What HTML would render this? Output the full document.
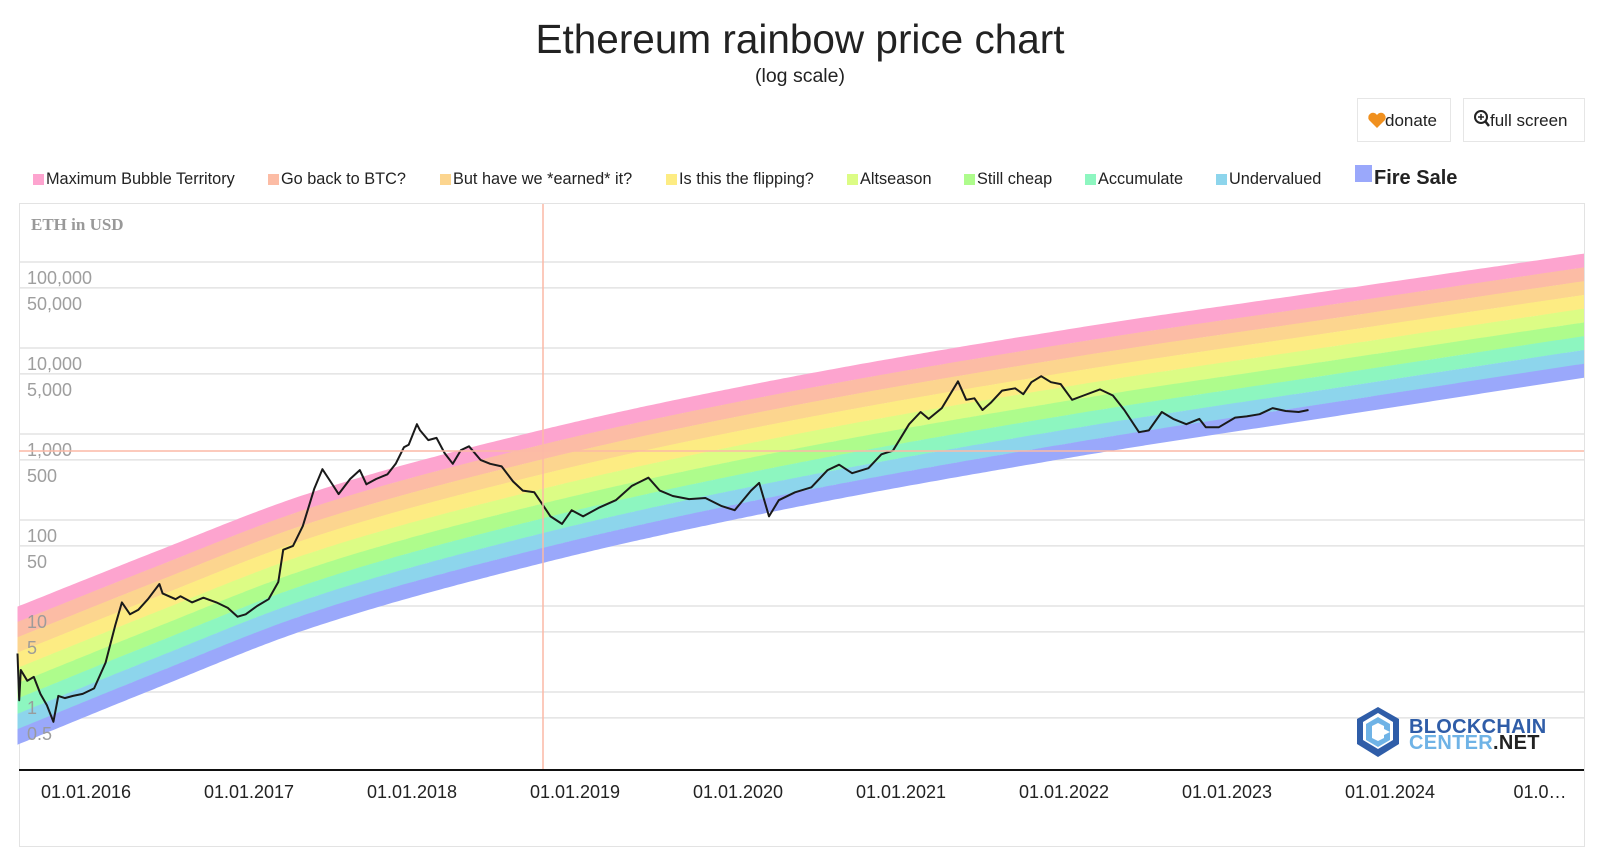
<!DOCTYPE html>
<html><head><meta charset="utf-8"><style>
body{margin:0;background:#fff;font-family:"Liberation Sans",sans-serif;overflow:hidden}
svg{display:block}
</style></head><body>
<svg width="1600" height="847" viewBox="0 0 1600 847" xmlns="http://www.w3.org/2000/svg">
<text x="800" y="53" text-anchor="middle" font-size="40.5" fill="#222" font-family="Liberation Sans, sans-serif">Ethereum rainbow price chart</text>
<text x="800" y="82" text-anchor="middle" font-size="19.5" fill="#222" font-family="Liberation Sans, sans-serif">(log scale)</text>
<g>
<rect x="1357.5" y="98.5" width="93" height="43" fill="#fff" stroke="#e6e6e6"/>
<path d="M1377 128 l-8 -8 a4.3 4.3 0 0 1 8 -5 a4.3 4.3 0 0 1 8 5 z" fill="#f0901e"/>
<text x="1385" y="126" font-size="17" fill="#222">donate</text>
</g>
<g>
<rect x="1463.5" y="98.5" width="121" height="43" fill="#fff" stroke="#e6e6e6"/>
<circle cx="1481" cy="117" r="6" fill="none" stroke="#222" stroke-width="2"/>
<line x1="1485" y1="121" x2="1489" y2="126" stroke="#222" stroke-width="2.5"/>
<path d="M1478 117h6M1481 114v6" stroke="#222" stroke-width="1.5"/>
<text x="1490" y="126" font-size="17" fill="#222">full screen</text>
</g>
<g id="legend"></g>
<rect x="19.5" y="203.5" width="1565" height="643" fill="none" stroke="#e3e3e3"/>
<text x="31" y="230" font-size="17" font-weight="bold" fill="#999" font-family="Liberation Serif, serif">ETH in USD</text>
<g id="grid"></g>
<g id="bands"></g>
<path id="price" fill="none" stroke="#1a1a1a" stroke-width="2" stroke-linejoin="round"/>
<g id="ylabels"></g>
<line x1="19" y1="451" x2="1584" y2="451" stroke="#fbb9a6" stroke-width="1.5"/>
<line x1="543" y1="204" x2="543" y2="770" stroke="#fbb9a6" stroke-width="1.5"/>
<line x1="19" y1="770" x2="1584" y2="770" stroke="#111" stroke-width="2"/>
<g id="xlabels"></g>
<g>
<path d="M1378 707 l21 12 v25 l-21 13 l-21 -13 v-25 z" fill="#2f5da8"/>
<path d="M1378 713 l15 9 v18 l-15 9 l-15 -9 v-18 z" fill="#fff"/>
<path d="M1366 724 l12 -7 l12 7 v8 l-6 -3 v-3 l-6 -3 l-6 3 v12 l6 3 l6 -3 v-3 l6 -3 v8 l-12 7 l-12 -7 z" fill="#6fb3e6"/>
<text x="1409" y="733" font-size="20" font-weight="bold" fill="#2f5da8" letter-spacing="0.3">BLOCKCHAIN</text>
<text x="1409" y="749" font-size="20" font-weight="bold" fill="#6fb3e6" letter-spacing="0.3">CENTER<tspan fill="#222">.NET</tspan></text>
</g>
</svg>
<script>
// ---- data ----
const bandNames = ["Maximum Bubble Territory","Go back to BTC?","But have we *earned* it?","Is this the flipping?","Altseason","Still cheap","Accumulate","Undervalued","Fire Sale"];
const bandColors = ["#fda4cf","#fcbca5","#fcd58f","#fdec83","#dcfc85","#aefc8c","#8df6c0","#8dd5ec","#9aa8fb"];
const bandTopYears = [2015.55,2016.41,2017.35,2018.80,2020.26,2022.10,2023.61,2024.98,2025.2];
const bandTopLog = [0.97,1.62,2.30,3.05,3.64,4.24,4.66,5.04,5.1];
const bandWidthStart = 0.178, bandWidthEnd = 0.160;
const yTicks = [100000,50000,10000,5000,1000,500,100,50,10,5,1,0.5];
const yTickLabels = ["100,000","50,000","10,000","5,000","1,000","500","100","50","10","5","1","0.5"];
const xTickYears = [2016,2017,2018,2019,2020,2021,2022,2023,2024,2025];
const xTickLabels = ["01.01.2016","01.01.2017","01.01.2018","01.01.2019","01.01.2020","01.01.2021","01.01.2022","01.01.2023","01.01.2024","01.0…"];
const priceYears = [2015.58,2015.59,2015.60,2015.64,2015.68,2015.72,2015.76,2015.80,2015.83,2015.87,2015.92,2015.98,2016.05,2016.12,2016.18,2016.22,2016.27,2016.32,2016.38,2016.45,2016.47,2016.55,2016.58,2016.65,2016.72,2016.80,2016.87,2016.93,2016.98,2017.05,2017.12,2017.18,2017.21,2017.27,2017.33,2017.40,2017.45,2017.50,2017.55,2017.62,2017.68,2017.72,2017.78,2017.85,2017.90,2017.95,2017.98,2018.03,2018.05,2018.10,2018.15,2018.20,2018.25,2018.30,2018.35,2018.42,2018.48,2018.55,2018.62,2018.68,2018.75,2018.85,2018.92,2018.98,2019.05,2019.15,2019.25,2019.35,2019.45,2019.52,2019.60,2019.70,2019.80,2019.90,2019.98,2020.08,2020.13,2020.19,2020.25,2020.35,2020.45,2020.55,2020.62,2020.70,2020.80,2020.88,2020.95,2021.05,2021.12,2021.17,2021.25,2021.35,2021.40,2021.45,2021.50,2021.55,2021.62,2021.70,2021.75,2021.80,2021.86,2021.92,2021.98,2022.05,2022.12,2022.22,2022.30,2022.37,2022.46,2022.52,2022.60,2022.67,2022.75,2022.83,2022.87,2022.95,2023.05,2023.12,2023.20,2023.28,2023.36,2023.44,2023.50];
const priceValues = [2.8,0.8,1.8,1.35,1.5,0.95,0.7,0.45,0.9,0.85,0.9,0.95,1.1,2.2,6,11,8,9,12,18,14,12,13,11,12.5,11,9.5,7.5,8,10,12,19,45,50,85,230,390,280,200,300,380,260,300,340,450,700,750,1300,1100,850,900,600,450,650,720,500,450,420,280,220,210,110,90,130,110,140,170,250,310,220,190,175,180,145,130,220,270,110,170,210,240,380,440,350,400,580,640,1300,1800,1500,2000,4100,2500,2600,1900,2300,3200,3400,2900,4000,4700,4000,3800,2500,2800,3300,2800,1900,1050,1100,1800,1500,1300,1500,1200,1200,1550,1600,1700,2000,1850,1800,1900];
// ---- axes ----
const NS="http://www.w3.org/2000/svg";
const X0=19, X1=1584;
function xScale(yr){return 86+(yr-2016)*163;}
function yScale(p){return 692-86*Math.log10(p);}
function yLog(l){return 692-86*l;}
function makeSpline(xs,ys){
  const n=xs.length,d=[],m=[];
  for(let i=0;i<n-1;i++)d.push((ys[i+1]-ys[i])/(xs[i+1]-xs[i]));
  m[0]=d[0];m[n-1]=d[n-2];
  for(let i=1;i<n-1;i++)m[i]=(d[i-1]*d[i]<=0)?0:(d[i-1]+d[i])/2;
  return function(v){
    if(v<=xs[0])return ys[0]+m[0]*(v-xs[0]);
    if(v>=xs[n-1])return ys[n-1]+m[n-1]*(v-xs[n-1]);
    let i=0;while(v>xs[i+1])i++;
    const h=xs[i+1]-xs[i],t=(v-xs[i])/h,t2=t*t,t3=t2*t;
    return (2*t3-3*t2+1)*ys[i]+(t3-2*t2+t)*h*m[i]+(-2*t3+3*t2)*ys[i+1]+(t3-t2)*h*m[i+1];
  };
}
const topFn=makeSpline(bandTopYears,bandTopLog);
function mk(tag,attrs,parent){const e=document.createElementNS(NS,tag);for(const k in attrs)e.setAttribute(k,attrs[k]);parent.appendChild(e);return e;}
const grid=document.getElementById('grid'), yl=document.getElementById('ylabels');
yTicks.forEach((t,i)=>{
  const y=yScale(t);
  const l=mk('line',{x1:X0,x2:X1,y1:y,y2:y,stroke:'#e3e3e3','stroke-width':1.5},grid);
  
  
  const tx=mk('text',{x:27,y:y+22,'font-size':18,fill:'#999','fill-opacity':0.95},yl);
  tx.textContent=yTickLabels[i];
  
  
});
const xl=document.getElementById('xlabels');
xTickYears.forEach((yr,i)=>{
  const x=Math.min(xScale(yr),1540);
  const tx=mk('text',{x:x,y:798,'font-size':18,fill:'#222','text-anchor':'middle'},xl);
  tx.textContent=xTickLabels[i];
  
  
});
const bandsG=document.getElementById('bands');
const yrStart=2015.58, yrEnd=(X1-86)/163+2016;
const samples=[];for(let yr=yrStart;yr<yrEnd;yr+=0.02)samples.push(yr);samples.push(yrEnd);
bandColors.forEach((c,i)=>{
  const top=[],bot=[];
  samples.forEach(yr=>{
    const f=(yr-yrStart)/(yrEnd-yrStart);
    const w=bandWidthStart+(bandWidthEnd-bandWidthStart)*f;
    const t=topFn(yr)-i*w;
    top.push([xScale(yr),yLog(t)]);bot.push([xScale(yr),yLog(t-w-0.003)]);
  });
  const pts=top.concat(bot.reverse()).map(p=>p[0].toFixed(1)+','+p[1].toFixed(1)).join(' ');
  const pg=mk('polygon',{points:pts,fill:c},bandsG);
  
  
});
let d='';priceYears.forEach((yr,i)=>{d+=(i?'L':'M')+xScale(yr).toFixed(1)+' '+yScale(priceValues[i]).toFixed(1);});
document.getElementById('price').setAttribute('d',d);
const lg=document.getElementById('legend');
const legX=[33,268,440,666,847,964,1085,1216,1355];
bandNames.forEach((n,i)=>{
  const big=i===8;
  const g=mk('g',{},lg);
  
  
  const s=big?17:11;
  mk('rect',{x:legX[i],y:big?165:174,width:s,height:s,fill:bandColors[i]},g);
  const t=mk('text',{x:legX[i]+s+2,y:184,'font-size':big?20:16.3,'font-weight':big?'bold':'normal',fill:'#222'},g);
  t.textContent=n;
});
</script>
</body></html>
